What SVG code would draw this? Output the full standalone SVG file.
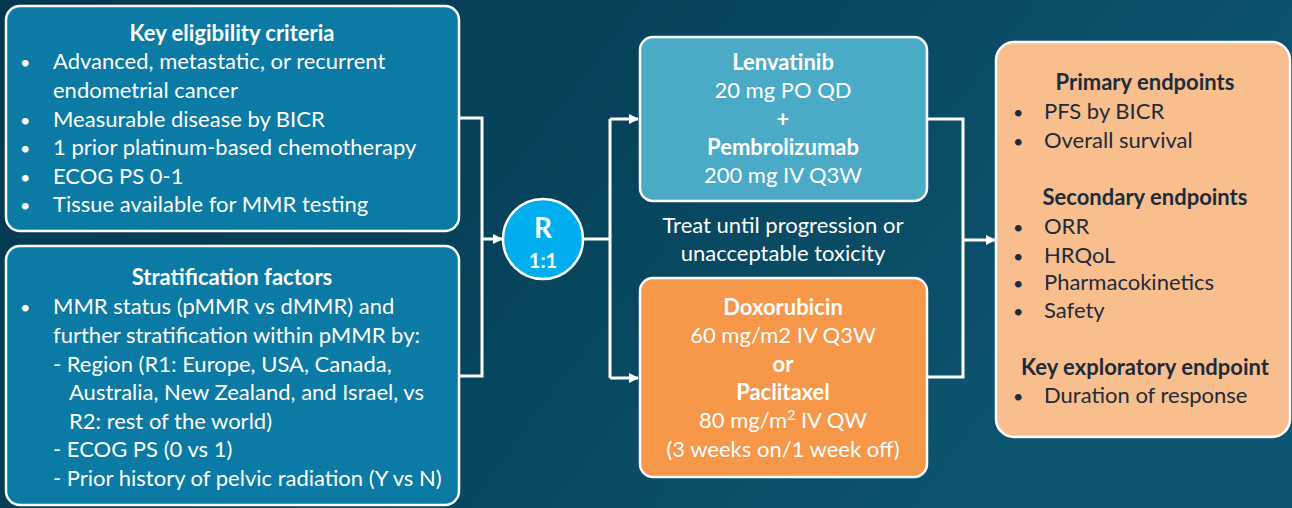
<svg xmlns="http://www.w3.org/2000/svg" width="1292" height="508" viewBox="0 0 1292 508">
<defs>
<linearGradient id="bg" x1="0" y1="0" x2="1" y2="0.3">
<stop offset="0" stop-color="#053850"/>
<stop offset="0.5" stop-color="#07435C"/>
<stop offset="1" stop-color="#0D5671"/>
</linearGradient>
<marker id="arr" viewBox="0 0 10 10" refX="9" refY="5" markerWidth="10" markerHeight="10" markerUnits="userSpaceOnUse" orient="auto">
<path d="M0,0 L10,5 L0,10 z" fill="#fff"/>
</marker>
<style>
.box{stroke:#fff;stroke-width:2.5}
.t{font-family:Lato,"Liberation Sans",sans-serif;font-size:22px;fill:#fff}
.b{font-weight:bold}
.c{text-anchor:middle}
.d{fill:#1E2B3A}
.bu{font-size:18px}
.ln{fill:none;stroke:#fff;stroke-width:3}
</style>
</defs>
<rect width="1292" height="508" fill="url(#bg)"/>

<g id="connectors">
<path class="ln" d="M459,118 H482 V376 H459"/>
<path class="ln" d="M482,239 H502" marker-end="url(#arr)"/>
<path class="ln" d="M583,239 H610"/>
<path class="ln" d="M610,119 V378"/>
<path class="ln" d="M610,119 H638" marker-end="url(#arr)"/>
<path class="ln" d="M610,378 H638" marker-end="url(#arr)"/>
<path class="ln" d="M927,119 H963 V377 H927"/>
<path class="ln" d="M963,240 H995" marker-end="url(#arr)"/>
</g>

<g id="eligibility">
<rect class="box" x="6" y="6" width="453" height="225" rx="14" fill="#0B7AA4"/>
<text class="t b c" x="232" y="41">Key eligibility criteria</text>
<g class="t">
<text class="bu" x="20" y="69">•</text><text x="53" y="69">Advanced, metastatic, or recurrent</text>
<text x="53" y="98">endometrial cancer</text>
<text class="bu" x="20" y="127">•</text><text x="53" y="127">Measurable disease by BICR</text>
<text class="bu" x="20" y="155">•</text><text x="53" y="155">1 prior platinum-based chemotherapy</text>
<text class="bu" x="20" y="184">•</text><text x="53" y="184">ECOG PS 0-1</text>
<text class="bu" x="20" y="212">•</text><text x="53" y="212">Tissue available for MMR testing</text>
</g>
</g>

<g id="stratification">
<rect class="box" x="6" y="246" width="453" height="259" rx="14" fill="#0B7AA4"/>
<text class="t b c" x="232" y="285">Stratification factors</text>
<g class="t">
<text class="bu" x="20" y="314">•</text><text x="53" y="314">MMR status (pMMR vs dMMR) and</text>
<text x="53" y="343">further stratification within pMMR by:</text>
<text x="53" y="372">- Region (R1: Europe, USA, Canada,</text>
<text x="69" y="400">Australia, New Zealand, and Israel, vs</text>
<text x="69" y="429">R2: rest of the world)</text>
<text x="53" y="457">- ECOG PS (0 vs 1)</text>
<text x="53" y="486">- Prior history of pelvic radiation (Y vs N)</text>
</g>
</g>

<g id="randomize">
<circle class="box" cx="543" cy="239" r="40" fill="#00AEEF"/>
<text class="t b c" x="543" y="238" style="font-size:28px">R</text>
<text class="t b c" x="543" y="268" style="font-size:20px">1:1</text>
</g>

<g id="lenvatinib">
<rect class="box" x="640" y="37" width="287" height="164" rx="13" fill="#4BABC6"/>
<text class="t b c" x="783" y="70">Lenvatinib</text>
<text class="t c" x="783" y="98">20 mg PO QD</text>
<text class="t b c" x="783" y="127">+</text>
<text class="t b c" x="783" y="155">Pembrolizumab</text>
<text class="t c" x="783" y="183">200 mg IV Q3W</text>
</g>

<g id="treat-note">
<text class="t c" x="783" y="233">Treat until progression or</text>
<text class="t c" x="783" y="261">unacceptable toxicity</text>
</g>

<g id="doxorubicin">
<rect class="box" x="640" y="278" width="287" height="199" rx="13" fill="#F69749"/>
<text class="t b c" x="783" y="315">Doxorubicin</text>
<text class="t c" x="783" y="343">60 mg/m2 IV Q3W</text>
<text class="t b c" x="783" y="372">or</text>
<text class="t b c" x="783" y="400">Paclitaxel</text>
<text class="t c" x="783" y="428">80 mg/m<tspan dy="-8" style="font-size:14px">2</tspan><tspan dy="8"> IV QW</tspan></text>
<text class="t c" x="783" y="457">(3 weeks on/1 week off)</text>
</g>

<g id="endpoints">
<rect class="box" x="996" y="42" width="294" height="395" rx="18" fill="#F9BE8E"/>
<g class="t d">
<text class="b c" x="1145" y="90">Primary endpoints</text>
<text class="bu" x="1013" y="119">•</text><text x="1044" y="119">PFS by BICR</text>
<text class="bu" x="1013" y="148">•</text><text x="1044" y="148">Overall survival</text>
<text class="b c" x="1145" y="205">Secondary endpoints</text>
<text class="bu" x="1013" y="234">•</text><text x="1044" y="234">ORR</text>
<text class="bu" x="1013" y="263">•</text><text x="1044" y="263">HRQoL</text>
<text class="bu" x="1013" y="290">•</text><text x="1044" y="290">Pharmacokinetics</text>
<text class="bu" x="1013" y="318">•</text><text x="1044" y="318">Safety</text>
<text class="b c" x="1145" y="375">Key exploratory endpoint</text>
<text class="bu" x="1013" y="403">•</text><text x="1044" y="403">Duration of response</text>
</g>
</g>
</svg>
